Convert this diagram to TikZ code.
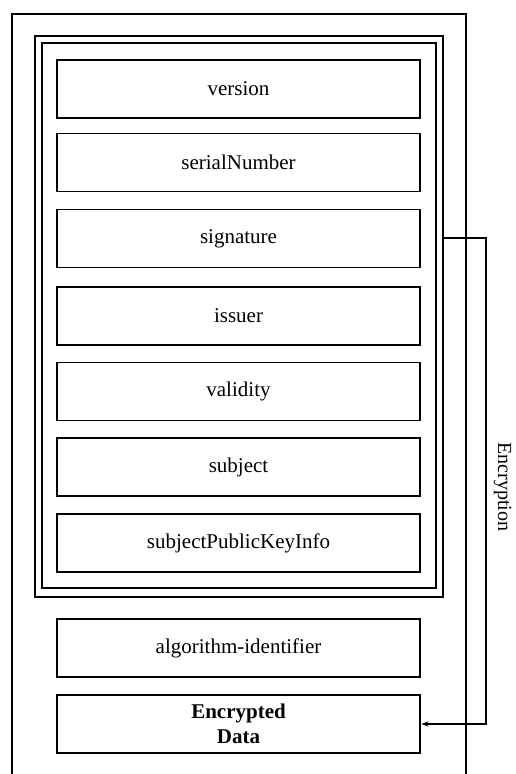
\documentclass[tikz,border=0pt]{standalone}
\usepackage{fontspec}
\setmainfont{Liberation Serif}
\usetikzlibrary{arrows.meta}
\begin{document}
\begin{tikzpicture}[x=1pt,y=-1pt,
  field/.style={draw,line width=1.2pt,minimum width=363pt,minimum height=58pt,
    inner sep=0pt,font=\fontsize{21}{25}\selectfont},
  datafield/.style={field,line width=2.8pt,align=center,font=\fontsize{21}{25}\selectfont\bfseries},
  frame/.style={draw,line width=1.5pt,inner sep=0pt},
  link/.style={line width=1.4pt}]
\useasboundingbox (0,0) rectangle (515,774);
% certificate container, open at the bottom
\draw[line width=2.4pt] (12,774) -- (12,14) -- (466,14) -- (466,774);
% double frame round the signed fields
\node[frame,minimum width=408pt,minimum height=561pt] (outerframe) at (239,316.5) {};
\node[frame,minimum width=394pt,minimum height=545pt] (innerframe) at (239,315.5) {};
% signed fields
\node[field] (version) at (238.5,89) {version};
\node[field] (serial)  at (238.5,162.5) {serialNumber};
\node[field] (sig)     at (238.5,238.5) {signature};
\node[field] (issuer)  at (238.5,316) {issuer};
\node[field] (valid)   at (238.5,391.5) {validity};
\node[field] (subject) at (238.5,467) {subject};
\node[field] (spki)    at (238.5,543) {subjectPublicKeyInfo};
% trailing fields
\node[field] (alg) at (238.5,648) {algorithm-identifier};
\node[datafield] (enc) at (238.5,724) {Encrypted\\Data};
% encryption path
\coordinate (rail) at (486,238);
\draw[link,-{Stealth[length=7pt,width=5pt]}] (outerframe.east |- rail) -- (rail) |- (enc.east);
\node[rotate=-90,inner sep=0pt,font=\fontsize{20}{24}\selectfont] (enclabel) at (502.5,487) {Encryption};
\end{tikzpicture}
\end{document}
